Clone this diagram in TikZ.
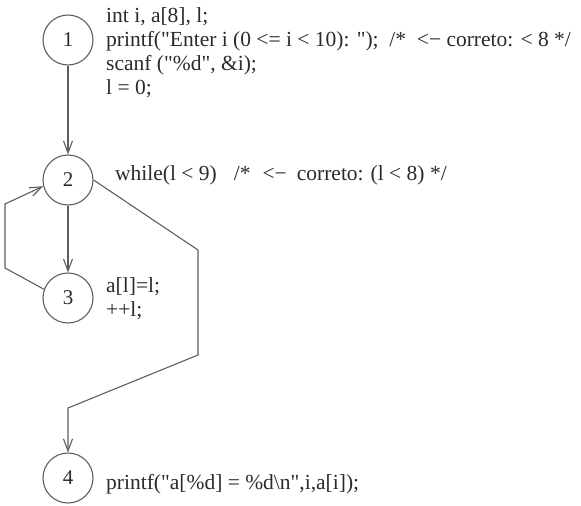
\documentclass[tikz,border=0pt]{standalone}
\usepackage{fontspec}
\setmainfont{Liberation Serif}[Ligatures=TeXOff]
\usetikzlibrary{arrows.meta}
\definecolor{linec}{HTML}{5E5E5E}
\definecolor{txtc}{HTML}{2A2A2A}
\newcommand{\dq}{\symbol{34}}
\begin{document}
\begin{tikzpicture}[x=1pt,y=-1pt,
  st/.style={circle,draw=linec,line width=1.1pt,minimum size=50pt,inner sep=0pt,
    font=\fontsize{21}{24}\selectfont,text=txtc},
  code/.style={anchor=base west,inner sep=0pt,
    font=\fontsize{21.5}{25}\selectfont,text=txtc},
  edge/.style={draw=linec,line width=1.1pt,-{Straight Barb[length=12pt,width=9pt]}}]
\useasboundingbox (0,0) rectangle (581,506);
\node[st] (n1) at (68,40) {1};
\node[st] (n2) at (68,180) {2};
\node[st] (n3) at (68,298) {3};
\node[st] (n4) at (68,478) {4};
\node[code] (t1a) at (106,22) {int i, a[8], l;};
\node[code] (t1b) at (106,46) {printf(\dq Enter i (0 <= i < 10): \dq);\ \ /*\ \ <− correto: < 8 */};
\node[code] (t1c) at (106,70) {scanf (\dq\%d\dq, \&i);};
\node[code] (t1d) at (106,94) {l = 0;};
\node[code] (t2) at (115,180) {while(l < 9)\hspace{17pt}/*\hspace{12pt}<−\hspace{10pt}correto:\hspace{7pt}(l < 8) */};
\node[code] (t3a) at (106,292) {a[l]=l;};
\node[code] (t3b) at (106,316) {++l;};
\node[code] (t4) at (106,489) {printf(\dq a[\%d] = \%d\textbackslash n\dq,i,a[i]);};
\coordinate (l1) at (5,268);
\coordinate (l2) at (5,204);
\coordinate (r1) at (198,250);
\coordinate (r2) at (198,355);
\coordinate (r3) at (68,408);
\draw[edge] (n1) -- (n2);
\draw[edge] (n2) -- (n3);
\draw[edge] (n3.160) -- (l1) -- (l2) -- (n2.194);
\draw[edge] (n2.east) -- (r1) -- (r2) -- (r3) -- (n4);
\end{tikzpicture}
\end{document}
